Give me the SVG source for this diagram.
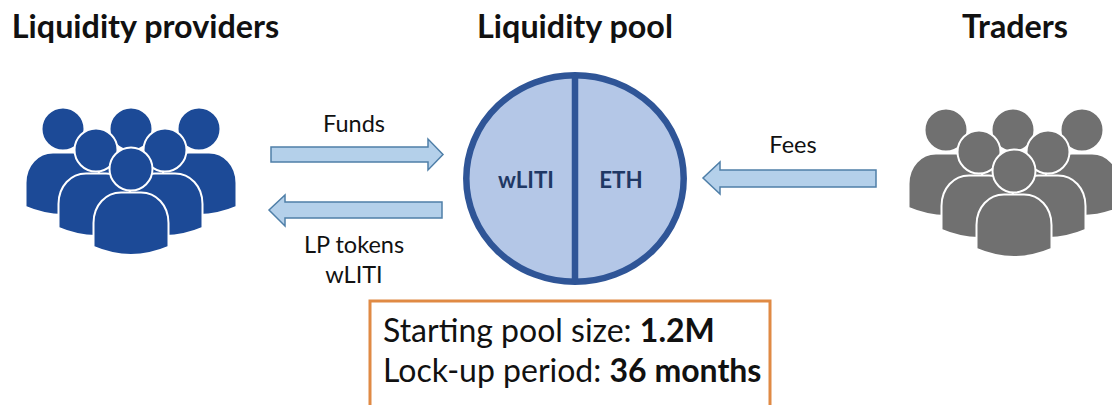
<svg xmlns="http://www.w3.org/2000/svg" width="1112" height="405" viewBox="0 0 1112 405">
<style>
text{font-family:Lato,"Open Sans","Liberation Sans",sans-serif;fill:#111}
.h{font-size:32.300px;font-weight:700;text-anchor:middle}
.l{font-size:23.500px;text-anchor:middle}
.c{font-size:22.300px;font-weight:700;text-anchor:middle;fill:#1f3864}
.b{font-size:32px}
.b tspan{font-weight:700}
.a{fill:#b4d0ea;stroke:#4f7fa8;stroke-width:1.5}
.p{stroke:#fff;stroke-width:2}
</style>
<defs>
<g id="person">
<path d="M-37.500,78V54C-37.500,36-25,23.500-10,23.500H10C25,23.500 37.500,36 37.500,54V78Q0,94-37.500,78Z"/>
<circle r="21.500"/>
</g>
</defs>
<rect width="1112" height="405" fill="#fff"/>
<text class="h" x="145.500" y="37.500">Liquidity providers</text>
<text class="h" x="575" y="37.500">Liquidity pool</text>
<text class="h" x="1015" y="37.500">Traders</text>
<g id="providers" class="p" fill="#1c4a97">
<use href="#person" x="131" y="129"/><use href="#person" x="63" y="129"/><use href="#person" x="199" y="129"/>
<use href="#person" x="96" y="150"/><use href="#person" x="165" y="150"/><use href="#person" x="131" y="169"/>
</g>
<g id="traders" class="p" fill="#707070">
<use href="#person" x="1013" y="130"/><use href="#person" x="946" y="130"/><use href="#person" x="1082" y="130"/>
<use href="#person" x="979" y="152"/><use href="#person" x="1048" y="152"/><use href="#person" x="1014" y="171"/>
</g>
<g id="pool">
<ellipse cx="575" cy="178.500" rx="108.700" ry="103.300" fill="#b4c7e7" stroke="#2f5597" stroke-width="6.500"/>
<path d="M575,75V282" stroke="#2f5597" stroke-width="6.500"/>
<text class="c" x="526" y="188">wLITI</text>
<text class="c" x="621" y="188">ETH</text>
</g>
<g id="connectors">
<path class="a" d="M271,147H428V139L443,154.500L428,170V162H271Z"/>
<path class="a" d="M442,202H285V195L269,210L285,226V218H442Z"/>
<path class="a" d="M876,170H720V162L703,178L720,194V187H876Z"/>
</g>
<text class="l" x="354" y="132">Funds</text>
<text class="l" x="354" y="253">LP tokens</text>
<text class="l" x="354" y="283">wLITI</text>
<text class="l" x="793" y="153">Fees</text>
<g id="info">
<path d="M370,405V301H770V405" fill="none" stroke="#e08a44" stroke-width="3"/>
<text class="b" x="383" y="342">Starting pool size: <tspan>1.2M</tspan></text>
<text class="b" x="383" y="382">Lock-up period: <tspan>36 months</tspan></text>
</g>
</svg>
